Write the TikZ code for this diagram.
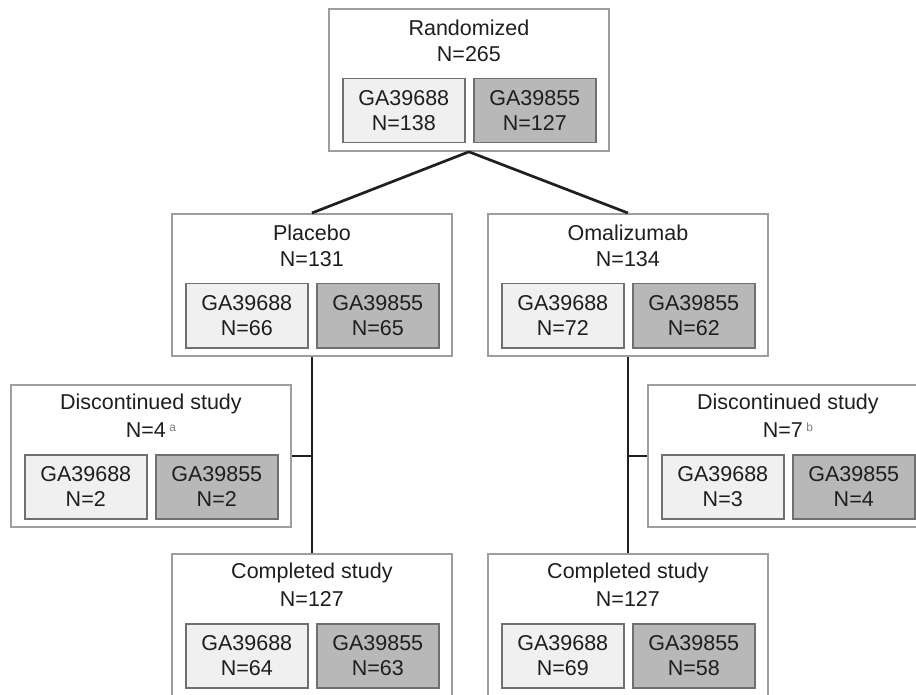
\documentclass[tikz,border=0pt]{standalone}
\usepackage{fontspec}
\setmainfont{Liberation Sans}
\usetikzlibrary{calc}
\definecolor{outerline}{HTML}{9E9E9E}
\definecolor{lightfill}{HTML}{F0F0F0}
\definecolor{lightline}{HTML}{707070}
\definecolor{darkfill}{HTML}{B8B8B8}
\definecolor{darkline}{HTML}{707070}
\definecolor{txt}{HTML}{1E1E1E}
\newcommand\supmark[1]{\,{\fontsize{12}{12}\selectfont\color{gray}\raisebox{6pt}{#1}}}
\tikzset{
  outerbox/.style={draw=outerline, line width=1.8pt, fill=white, minimum width=280pt, minimum height=142pt, inner sep=0pt, anchor=north west},
  lightbox/.style={draw=lightline, line width=1.5pt, fill=lightfill, minimum width=122pt, minimum height=64pt, inner sep=0pt, anchor=north west, align=center, text=txt, font=\fontsize{21.5}{25}\selectfont},
  darkbox/.style={lightbox, draw=darkline, fill=darkfill},
  titletext/.style={inner sep=0pt, text=txt, font=\fontsize{21.5}{25}\selectfont},
  link/.style={line width=2.7pt, draw=black!88}
}
% #1 name, #2 x, #3 y, #4 title, #5 N line, #6 left N, #7 right N
\newcommand\flowgroup[7]{%
  \node[outerbox] (#1) at (#2,#3) {};
  \node[titletext] (#1-t) at ($(#1.north)+(0,20)$) {#4};
  \node[titletext] (#1-n) at ($(#1.north)+(0,46)$) {#5};
  \node[lightbox] (#1-a) at ($(#1.north west)+(14,70)$) {GA39688\\N=#6};
  \node[darkbox] (#1-b) at ($(#1.north west)+(145,70)$) {GA39855\\N=#7};
}
\begin{document}
\begin{tikzpicture}[x=1pt, y=-1pt]
\useasboundingbox (0,0) rectangle (916,695);
\clip (0,0) rectangle (916,695);
\flowgroup{rand}{328}{8}{Randomized}{N=265}{138}{127}
\flowgroup{plac}{171}{213}{Placebo}{N=131}{66}{65}
\flowgroup{omal}{487}{213}{Omalizumab}{N=134}{72}{62}
\flowgroup{disL}{10}{384}{Discontinued study}{N=4\supmark{a}}{2}{2}
\flowgroup{disR}{647}{384}{Discontinued study}{N=7\supmark{b}}{3}{4}
\flowgroup{compL}{171}{553}{Completed study}{N=127}{64}{63}
\flowgroup{compR}{487}{553}{Completed study}{N=127}{69}{58}
\draw[link] (rand.south) -- (plac.north);
\draw[link] (rand.south) -- (omal.north);
\draw[link] (plac.south) -- (compL.north);
\draw[link] (omal.south) -- (compR.north);
\draw[link] (disL.east) -- (disL.east -| plac.south);
\draw[link] (disR.west) -- (disR.west -| omal.south);
\end{tikzpicture}
\end{document}
